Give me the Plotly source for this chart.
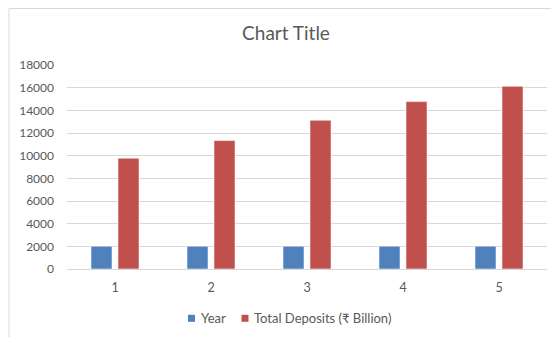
import plotly.graph_objects as go

categories = ["1", "2", "3", "4", "5"]
year_values = [2011, 2012, 2013, 2014, 2015]
deposit_values = [9780, 11330, 13130, 14770, 16120]
y_ticks = [0, 2000, 4000, 6000, 8000, 10000, 12000, 14000, 16000, 18000]
y_tick_text = [str(v) for v in y_ticks]
series_names = ["Year", "Total Deposits (₹ Billion)"]
series_colors = ["#4F81BD", "#C0504D"]

FONT = "Lato, 'Open Sans', sans-serif"
TXT = "#595959"
GRID = "#D9D9D9"

W, H = 551, 337
L, R, T, B = 67, 4, 65, 68
pw, ph = W - L - R, H - T - B

def px_x(p):
    return (p - L) / pw

def px_y(p):
    return (H - B - p) / ph

fig = go.Figure()
for name, vals, col in zip(series_names, [year_values, deposit_values], series_colors):
    fig.add_trace(go.Bar(
        x=categories, y=vals, name=name, showlegend=False,
        marker=dict(color=col, line=dict(color="rgba(255,255,255,0.55)", width=1)),
    ))

# legend drawn as small squares + text, like the Excel legend
shapes = [dict(type="rect", xref="paper", yref="paper",
               x0=px_x(9), x1=px_x(W + 10), y0=px_y(H + 10), y1=px_y(8.5),
               line=dict(color="#D9D9D9", width=1), fillcolor="rgba(0,0,0,0)",
               layer="below")]
annotations = []
legend_sq_x = [188, 241.5]
legend_txt_x = [198.5, 251.5]
ly = 318.3
for name, col, sx, tx in zip(series_names, series_colors, legend_sq_x, legend_txt_x):
    shapes.append(dict(type="rect", xref="paper", yref="paper",
                       x0=px_x(sx), x1=px_x(sx + 7), y0=px_y(ly + 3.5), y1=px_y(ly - 3.5),
                       line=dict(width=0), fillcolor=col))
    annotations.append(dict(text=name, xref="paper", yref="paper",
                            x=px_x(tx), y=px_y(ly), xanchor="left", yanchor="middle",
                            showarrow=False,
                            font=dict(family=FONT, size=13, color=TXT)))

fig.update_layout(
    width=W, height=H,
    margin=dict(l=L, r=R, t=T, b=B, pad=0),
    paper_bgcolor="white", plot_bgcolor="white",
    font=dict(family=FONT, size=12, color=TXT),
    title=dict(text="Chart Title", xref="container", x=286 / W, xanchor="center",
               yref="container", y=1 - 33 / H, yanchor="middle",
               font=dict(family=FONT, size=19, color=TXT)),
    barmode="group", bargap=0.4375, bargroupgap=0.22,
    showlegend=False,
    xaxis=dict(showgrid=False, showline=True, linecolor=GRID, linewidth=1,
               ticks="", ticklabelstandoff=7, zeroline=False,
               tickfont=dict(size=12.5)),
    yaxis=dict(range=[0, 18000], tickvals=y_ticks, ticktext=y_tick_text,
               showgrid=True, gridcolor=GRID, gridwidth=1, zeroline=False,
               showline=False, ticks="", ticklabelstandoff=12),
    shapes=shapes,
    annotations=annotations,
)

fig.write_html("out.html")
